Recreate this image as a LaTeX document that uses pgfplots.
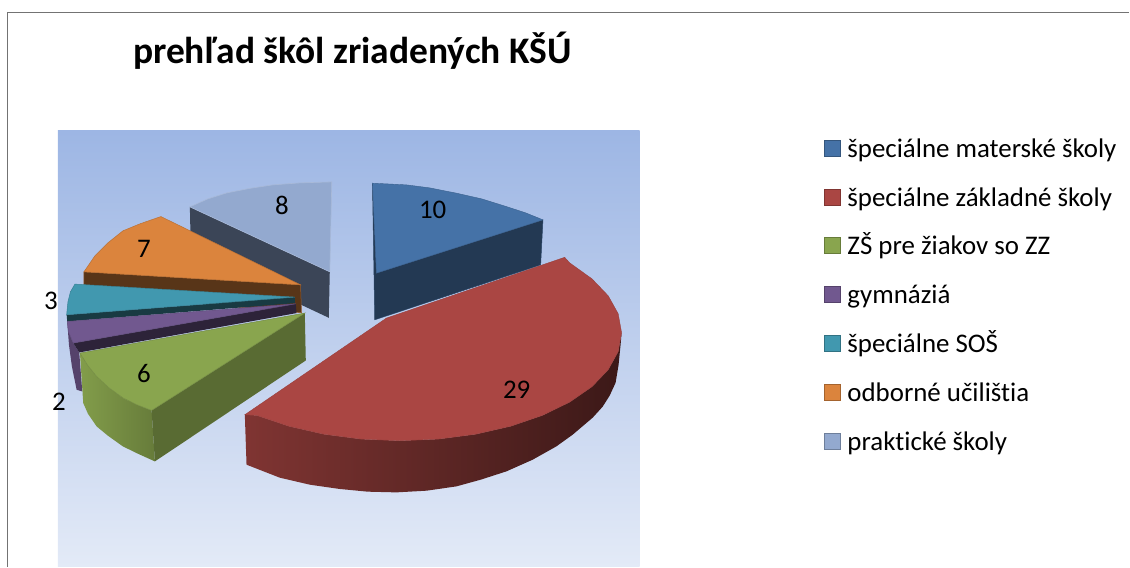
\documentclass[border=0pt]{standalone}
\usepackage{fontspec}
\setmainfont{Carlito}[Ligatures={NoCommon}]
\usepackage{pgfplots}
\pgfplotsset{compat=1.18}
\definecolor{cBlue}{HTML}{4572A7}
\definecolor{cRed}{HTML}{AA4643}
\definecolor{cGreen}{HTML}{89A54E}
\definecolor{cPurple}{HTML}{71588F}
\definecolor{cTeal}{HTML}{4198AF}
\definecolor{cOrange}{HTML}{DB843D}
\definecolor{cGrey}{HTML}{93A9CF}
\definecolor{cGreyDark}{HTML}{3B4557}
\definecolor{bgTop}{HTML}{9DB6E4}
\definecolor{bgBot}{HTML}{E3EAF7}
\pgfplotstableread{
x   y   v
433 210 10
517 390 29
144 374 6
59  402 2
51  301 3
144 249 7
282 206 8
}\pielabels
\begin{document}
\begin{tikzpicture}
\begin{axis}[
scale only axis,
width=1130pt,
height=567pt,
xmin=0,xmax=1130,
ymin=0,ymax=567,
y dir=reverse,
hide axis,
clip=false,
legend cell align=left,
legend style={
  at={(axis cs:825,140)},anchor=north west,draw=none,fill=none,inner sep=0pt,outer sep=0pt,
  font=\fontsize{26.9}{27}\selectfont,row sep=25.3pt,
  nodes={inner sep=0pt,text height=17pt,text depth=6pt},
  /tikz/every odd column/.append style={column sep=6pt},
},
legend image code/.code={\draw[#1] (0pt,-4.5pt) rectangle (16pt,11.5pt);},
]
\addlegendimage{fill=cBlue,draw=cBlue!75!black,line width=1pt}
\addlegendimage{fill=cRed,draw=cRed!75!black,line width=1pt}
\addlegendimage{fill=cGreen,draw=cGreen!75!black,line width=1pt}
\addlegendimage{fill=cPurple,draw=cPurple!75!black,line width=1pt}
\addlegendimage{fill=cTeal,draw=cTeal!75!black,line width=1pt}
\addlegendimage{fill=cOrange,draw=cOrange!75!black,line width=1pt}
\addlegendimage{fill=cGrey,draw=cGrey!75!black,line width=1pt}

% page size
\path (axis cs:0,0) -- (axis cs:1130,567);

% frame and plot area
\addplot[draw=black!55,line width=1.5pt] coordinates {(7.5,567) (7.5,12.5) (1130,12.5)};
\addplot[draw=none,top color=bgTop,bottom color=bgBot] coordinates {(58,131) (640,131) (640,567) (58,567)} -- cycle;

% praktické školy
\addplot[fill=cGreyDark,draw=none] coordinates {(190,207) (330,272) (329,318) (191,253)} -- cycle;
\addplot[fill=cGrey,draw=cGrey!80!white,line width=.6pt] coordinates {(190,207) (208,199) (227,193) (250,188.5) (273,185) (300,183) (332,182) (330,272)} -- cycle;

% odborné učilištia
\addplot[fill=cOrange!40!black,draw=cOrange!70!black,line width=.5pt] coordinates {(84,272) (300.7,285) (301.7,313) (100,295) (84,285)} -- cycle;
\addplot[fill=cOrange,draw=cOrange!85!black,line width=.5pt] coordinates {(161,216.7) (140,224) (123,231) (108,243) (95,256) (84,272) (300.7,285)} -- cycle;

% špeciálne SOŠ
\addplot[fill=cTeal!38!black,draw=none] coordinates {(66.7,315) (295,297.3) (295,303.3) (67.3,321.7)} -- cycle;
\addplot[fill=cTeal,draw=cTeal!85!black,line width=.5pt] coordinates {(75,284.3) (70.5,292) (68,302) (66.7,315) (295,297.3)} -- cycle;

% gymnáziá
\addplot[fill=cPurple!75!black,draw=none] coordinates {(67.3,321.7) (68.5,332) (73.3,343.3) (79.3,352.7) (82.3,391.7) (76.7,390) (72,367) (69,345)} -- cycle;
\addplot[fill=cPurple!40!black,draw=none] coordinates {(73.3,343.3) (296,304) (296.7,313.3) (79.3,352.7)} -- cycle;
\addplot[fill=cPurple,draw=cPurple!85!black,line width=.5pt] coordinates {(67.3,321.7) (68.5,332) (73.3,343.3) (296,304)} -- cycle;

% ZŠ pre žiakov so ZZ
\addplot[draw=none,left color=cGreen!95!black,right color=cGreen!75!black] coordinates {(80,353.3) (88,366) (96.7,376.7) (109,388) (123.3,398.3) (137,405) (151.7,410.7) (155,461.7) (138,454) (123,446.7) (108,436) (96.7,426.7) (88,414) (83.3,403.3)} -- cycle;
\addplot[fill=cGreen!65!black,draw=none] coordinates {(151.7,410.7) (305,313.3) (306,360.7) (155,461.7)} -- cycle;
\addplot[fill=cGreen,draw=cGreen!85!black,line width=.5pt] coordinates {(80,353.3) (88,366) (96.7,376.7) (109,388) (123.3,398.3) (137,405) (151.7,410.7) (305,313.3)} -- cycle;

% špeciálne materské školy
\addplot[fill=cBlue!50!black,draw=cBlue!60!black,line width=.5pt] coordinates {(372.7,183.3) (376.7,273.3) (543.3,220) (541,265) (375,320)} -- cycle;
\addplot[fill=cBlue,draw=cBlue!85!black,line width=.4pt] coordinates {(372.7,183.3) (406.7,185) (430,188) (456.7,193.3) (482,199) (506.7,206.7) (526,213) (543.3,220) (376.7,273.3)} -- cycle;

% špeciálne základné školy
\addplot[draw=none,left color=cRed!75!black,middle color=cRed!45!black,right color=cRed!35!black] coordinates {(245,415) (257,415.7) (289,426.5) (324,434.5) (361.5,439.4) (400,441) (438.5,439.4) (476,434.5) (511,426.5) (542.7,415.7) (570,402.4) (592.3,387) (608.6,370) (618.6,351.8) (622,333) (621,345) (619,365) (616,383) (610,396) (603,407) (593,418) (573,435) (556.7,446.7) (533,460) (506.7,471.7) (481,480) (456.7,486.7) (427,491) (396.7,492.7) (368,492) (340,489.3) (310,485) (280,478) (246.7,465)} -- cycle;
\addplot[fill=cRed,draw=cRed!90!black,line width=.4pt] coordinates {(245,415) (257,415.7) (289,426.5) (324,434.5) (361.5,439.4) (400,441) (438.5,439.4) (476,434.5) (511,426.5) (542.7,415.7) (570,402.4) (592.3,387) (608.6,370) (618.6,351.8) (622,333) (618.6,314) (608.6,296) (592.3,279) (570,263) (565,257.5) (386.7,318.3)} -- cycle;

% data labels
\addplot[only marks,mark=none,nodes near coords,point meta=explicit symbolic,
  nodes near coords style={anchor=center,font=\fontsize{26.9}{27}\selectfont,inner sep=0pt}]
  table[x=x,y=y,meta=v] {\pielabels};

\node[anchor=west,inner sep=0pt,font=\fontsize{37.5}{38}\selectfont\bfseries] at (axis cs:133,51) {prehľad škôl zriadených KŠÚ};

\legend{špeciálne materské školy,špeciálne základné školy,ZŠ pre žiakov so ZZ,gymnáziá,špeciálne SOŠ,odborné učilištia,praktické školy}
\end{axis}
\end{tikzpicture}
\end{document}
